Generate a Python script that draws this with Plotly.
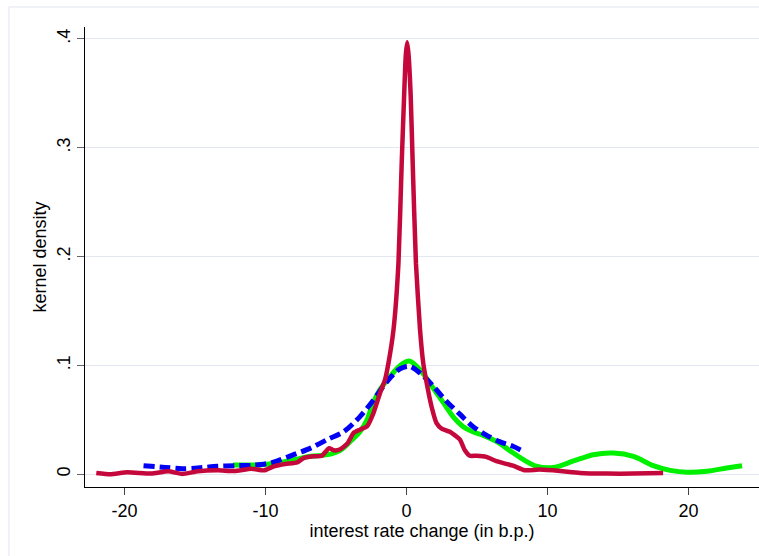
import plotly.graph_objects as go

# ---- data ----
red_x = [-22.0, -21.0, -19.8, -18.1, -16.9, -15.9, -14.8, -13.4, -12.2, -11.0, -10.1, -9.4, -8.6,
         -7.75, -7.3, -6.6, -6.0, -5.5, -5.15, -4.7, -4.2, -3.75, -3.3, -2.8, -2.35, -1.87, -1.52,
         -1.28, -0.92, -0.57, -0.34, -0.17, -0.05, 0.05, 0.15, 0.3, 0.44, 0.67, 0.96, 1.19, 1.43,
         1.78, 2.13, 2.49, 3.08, 3.78, 4.14, 4.49, 4.96, 5.66, 6.37, 7.55, 8.37, 9.43, 10.9, 12.3,
         14.2, 16.1, 18.2]
red_y = [0.0012, 0.0, 0.0018, 0.0006, 0.0027, 0.0003, 0.0027, 0.0036, 0.003, 0.0051, 0.0036, 0.0073,
         0.0095, 0.0109, 0.0149, 0.0165, 0.017, 0.024, 0.022, 0.023, 0.028, 0.038, 0.041, 0.044,
         0.056, 0.075, 0.087, 0.102, 0.133, 0.194, 0.286, 0.347, 0.385, 0.397, 0.385, 0.347, 0.286,
         0.194, 0.133, 0.102, 0.084, 0.062, 0.047, 0.042, 0.039, 0.032, 0.022, 0.017, 0.017, 0.016,
         0.012, 0.0079, 0.0037, 0.0043, 0.003, 0.0012, 0.0006, 0.0006, 0.0012]

green_x = [-12.3, -10.3, -9.2, -8.0, -6.8, -5.6, -4.7, -4.0, -3.3, -2.8, -2.35, -1.87, -1.16, -0.45,
           0.2, 0.96, 1.9, 2.6, 3.3, 4.0, 4.7, 5.4, 6.4, 7.3, 8.3, 9.2, 10.4, 11.8, 13.25, 14.67,
           16.1, 17.5, 18.7, 19.9, 21.3, 22.7, 23.8]
green_y = [0.0085, 0.0088, 0.0103, 0.0133, 0.0165, 0.018, 0.022, 0.030, 0.039, 0.050, 0.066, 0.078,
           0.090, 0.100, 0.104, 0.096, 0.079, 0.066, 0.053, 0.044, 0.039, 0.036, 0.030, 0.022,
           0.0134, 0.0075, 0.0062, 0.012, 0.018, 0.0195, 0.0165, 0.0079, 0.0036, 0.0018, 0.0027,
           0.0057, 0.0079]

blue_x = [-18.65, -17.1, -15.9, -14.8, -13.4, -12.2, -11.0, -10.3, -9.6, -9.2, -8.0, -6.8, -5.6,
          -4.46, -3.3, -2.35, -1.4, -0.45, 0.25, 0.96, 1.9, 2.84, 3.8, 4.7, 5.66, 6.6, 7.55, 8.14]
blue_y = [0.0079, 0.0063, 0.0051, 0.0058, 0.0073, 0.0079, 0.0082, 0.009, 0.0105, 0.0121, 0.018,
          0.024, 0.032, 0.039, 0.053, 0.068, 0.085, 0.097, 0.099, 0.093, 0.081, 0.067, 0.055,
          0.044, 0.036, 0.030, 0.0257, 0.022]

x_ticks = [-20, -10, 0, 10, 20]
x_ticktext = ["-20", "-10", "0", "10", "20"]
y_ticks = [0, 0.1, 0.2, 0.3, 0.4]
y_ticktext = ["0", ".1", ".2", ".3", ".4"]

FONT = "Liberation Sans, Arial, sans-serif"

fig = go.Figure()
fig.add_trace(go.Scatter(x=green_x, y=green_y, mode="lines",
                         line=dict(color="#00f000", width=5, shape="spline", smoothing=0.8),
                         showlegend=False, hoverinfo="skip"))
fig.add_trace(go.Scatter(x=blue_x, y=blue_y, mode="lines",
                         line=dict(color="#0000f5", width=5, dash="11px,5px", shape="spline", smoothing=0.8),
                         showlegend=False, hoverinfo="skip"))
fig.add_trace(go.Scatter(x=red_x, y=red_y, mode="lines",
                         line=dict(color="#c4083c", width=4.5, shape="spline", smoothing=0.5),
                         showlegend=False, hoverinfo="skip"))

fig.update_layout(
    width=759, height=556,
    margin=dict(l=85, r=0, t=27, b=69),
    paper_bgcolor="white", plot_bgcolor="white",
    font=dict(family=FONT, size=18, color="black"),
    xaxis=dict(range=[-22.8, 25.0], tickvals=x_ticks, ticktext=x_ticktext,
               showgrid=False, zeroline=False,
               showline=True, linecolor="black", linewidth=1,
               ticks="outside", ticklen=7, tickcolor="#444", tickwidth=1,
               tickfont=dict(size=18),
               title=dict(text="interest rate change (in b.p.)", font=dict(size=18), standoff=0)),
    yaxis=dict(range=[-0.0117, 0.411], tickvals=y_ticks, ticktext=y_ticktext, tickangle=-90,
               showgrid=True, gridcolor="#e1e6f0", gridwidth=1, zeroline=False,
               showline=True, linecolor="black", linewidth=1,
               ticks="outside", ticklen=7, tickcolor="#666", tickwidth=1,
               tickfont=dict(size=18),
               title=dict(text="kernel density", font=dict(size=18), standoff=2)),
    shapes=[dict(type="rect", xref="paper", yref="paper",
                 x0=-0.1128, x1=1.05, y0=-0.2, y1=1.0435,
                 line=dict(color="#dfe5ee", width=1), fillcolor="rgba(0,0,0,0)", layer="below")],
)

fig.write_html("out.html", config={"displayModeBar": False},
               post_script="document.body.style.margin='0px';")
